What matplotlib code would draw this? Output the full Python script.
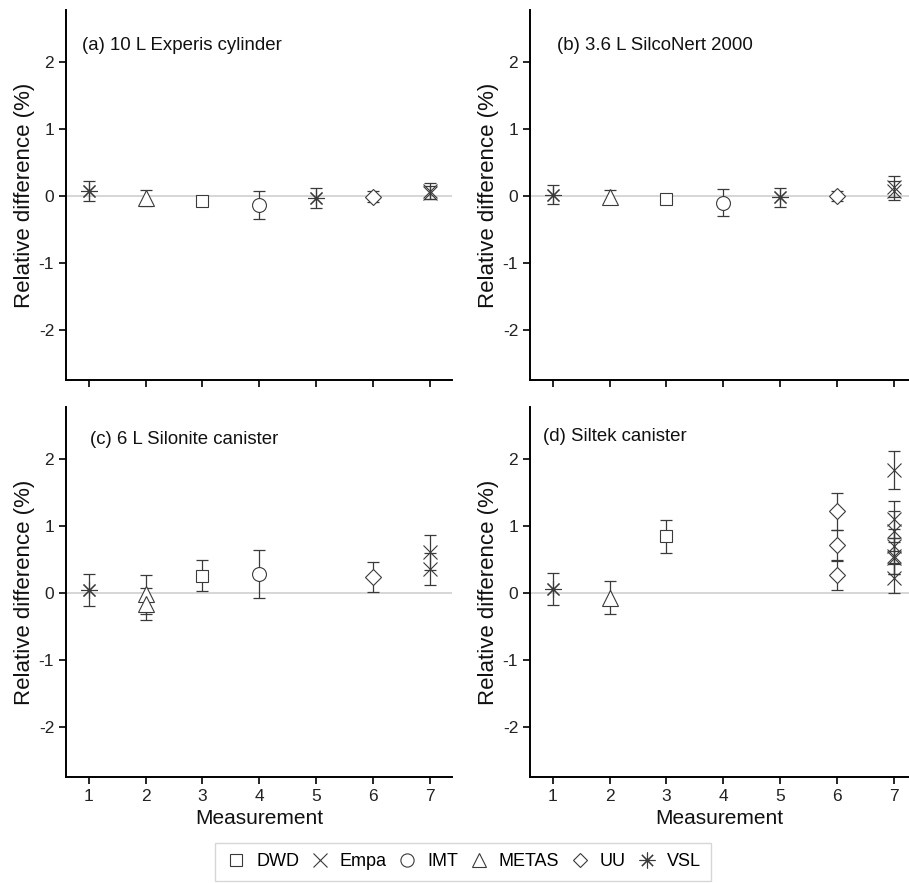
import matplotlib
matplotlib.use('Agg')
import matplotlib.pyplot as plt
from matplotlib.lines import Line2D

plt.rcParams['font.family'] = ['Liberation Sans', 'DejaVu Sans']
plt.rcParams['axes.unicode_minus'] = False

labs = ['DWD', 'Empa', 'IMT', 'METAS', 'UU', 'VSL']
# R-style open symbols: square, cross, circle, triangle, diamond, asterisk
marks = {'DWD': 's', 'Empa': 'x', 'IMT': 'o', 'METAS': '^', 'UU': 'D', 'VSL': (8, 2, 0)}
msize = {'DWD': 9, 'Empa': 10, 'IMT': 10, 'METAS': 11, 'UU': 8, 'VSL': 12}

# (a) 10 L Experis cylinder
a_lab = ['VSL', 'METAS', 'DWD', 'IMT', 'VSL', 'UU', 'Empa', 'Empa']
a_x = [1, 2, 3, 4, 5, 6, 7, 7]
a_y = [0.07, -0.03, -0.08, -0.14, -0.03, -0.01, 0.08, 0.05]
a_err = [0.15, 0.12, 0.05, 0.21, 0.15, 0.08, 0.12, 0.10]

# (b) 3.6 L SilcoNert 2000
b_lab = ['VSL', 'METAS', 'DWD', 'IMT', 'VSL', 'UU', 'Empa', 'Empa']
b_x = [1, 2, 3, 4, 5, 6, 7, 7]
b_y = [0.02, -0.01, -0.04, -0.10, -0.02, 0.0, 0.14, 0.08]
b_err = [0.14, 0.10, 0.03, 0.20, 0.14, 0.08, 0.16, 0.14]

# (c) 6 L Silonite canister
c_lab = ['VSL', 'METAS', 'METAS', 'DWD', 'IMT', 'UU', 'Empa', 'Empa']
c_x = [1, 2, 2, 3, 4, 6, 7, 7]
c_y = [0.04, -0.02, -0.16, 0.26, 0.28, 0.24, 0.61, 0.36]
c_err = [0.24, 0.29, 0.24, 0.23, 0.36, 0.22, 0.26, 0.24]

# (d) Siltek canister
d_lab = ['VSL', 'METAS', 'DWD', 'UU', 'UU', 'UU',
         'Empa', 'Empa', 'Empa', 'Empa', 'Empa', 'Empa', 'Empa']
d_x = [1, 2, 3, 6, 6, 6, 7, 7, 7, 7, 7, 7, 7]
d_y = [0.06, -0.07, 0.85, 1.22, 0.71, 0.27, 1.84, 1.10, 0.93, 0.70, 0.55, 0.52, 0.22]
d_err = [0.24, 0.25, 0.245, 0.28, 0.23, 0.23, 0.28, 0.28, 0.30, 0.25, 0.27, 0.24, 0.22]

panels = [
    ('(a) 10 L Experis cylinder', a_lab, a_x, a_y, a_err),
    ('(b) 3.6 L SilcoNert 2000', b_lab, b_x, b_y, b_err),
    ('(c) 6 L Silonite canister', c_lab, c_x, c_y, c_err),
    ('(d) Siltek canister', d_lab, d_x, d_y, d_err),
]

W, H = 909, 883
fig = plt.figure(figsize=(W / 100, H / 100), dpi=100)

# axes boxes in pixels: left, top, right, bottom
boxes = [(66, 10, 452, 380), (530, 10, 909, 380),
         (66, 407, 452, 777), (530, 407, 909, 777)]
text_pos = [(0.041, 0.905), (0.071, 0.905), (0.062, 0.911), (0.034, 0.92)]

ink = '#3a3a3a'
for i, (title, lab, xs, ys, errs) in enumerate(panels):
    l, t, r, b = boxes[i]
    ax = fig.add_axes([l / W, (H - b) / H, (r - l) / W, (b - t) / H])
    ax.axhline(0, color='#d0d0d0', lw=1.2, zorder=0)
    for lb, x, y, e in zip(lab, xs, ys, errs):
        ax.errorbar(x, y, yerr=e, fmt='none', ecolor=ink, elinewidth=0.9,
                    capsize=4.5, capthick=0.9, zorder=2)
        ax.plot(x, y, marker=marks[lb], ms=msize[lb],
                mfc='white' if lb in ('DWD', 'IMT', 'METAS', 'UU') else 'none',
                mec=ink, mew=0.8, ls='none', zorder=3)
    ax.set_xlim(0.6, 0.6 + (r - l) / 56.8)
    ax.set_ylim(-2.75, 2.78)
    ax.set_xticks(range(1, 8))
    ax.set_yticks([-2, -1, 0, 1, 2])
    for s in ('top', 'right'):
        ax.spines[s].set_visible(False)
    for s in ('left', 'bottom'):
        ax.spines[s].set_linewidth(1.4)
        ax.spines[s].set_color('black')
    ax.tick_params(direction='out', length=5, width=1.2, labelsize=12.5,
                   colors='black', labelcolor='#222222')
    ax.set_ylabel('Relative difference (%)', fontsize=16, color='#111111', labelpad=3)
    if i >= 2:
        ax.set_xlabel('Measurement', fontsize=15, color='#111111', labelpad=4)
    else:
        ax.set_xticklabels([])
    ax.text(text_pos[i][0], text_pos[i][1], title, transform=ax.transAxes,
            fontsize=13.4, color='#111111', ha='left', va='center')

handles = [Line2D([], [], marker=marks[lb], ms=msize[lb] * 0.95, mfc='none', mec=ink,
                  mew=0.8, ls='none', label=lb) for lb in labs]
leg = fig.legend(handles=handles, loc='center', bbox_to_anchor=(463 / W, 1 - 862 / H),
                 ncol=6, frameon=True, fancybox=False, fontsize=13,
                 handletextpad=0.5, columnspacing=0.55, borderpad=0.6, handlelength=1.2)
leg.get_frame().set_edgecolor('#cccccc')
leg.get_frame().set_linewidth(1.0)

fig.savefig('out.png', dpi=100)
